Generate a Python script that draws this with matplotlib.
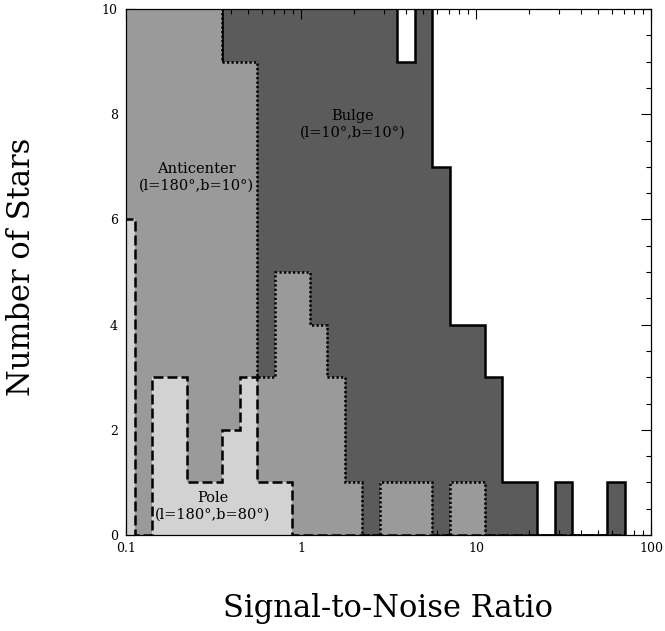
import numpy as np
import matplotlib
matplotlib.use("Agg")
import matplotlib.pyplot as plt
from matplotlib.ticker import MultipleLocator, FixedLocator, FixedFormatter, NullFormatter, LogLocator

# Bins: 0.1 dex wide in log10(S/N), first bin centred on log10 = -1.0
log_edges_start = -1.05
bin_width_dex = 0.1
n_bins = 29

# Counts per bin (bins centred at log10(S/N) = -1.0, -0.9, ..., 1.8)
pole_counts = [6, 0, 3, 3, 1, 1, 2, 3, 1, 1, 0, 0, 0, 0, 0, 0, 0, 0, 0, 0,
               0, 0, 0, 0, 0, 0, 0, 0, 0]
anticenter_counts = [11, 12, 14, 13, 12, 11, 9, 9, 3, 5, 5, 4, 3, 1, 0, 1, 1, 1, 0, 1,
                     1, 0, 0, 0, 0, 0, 0, 0, 0]
bulge_counts = [0, 1, 2, 4, 6, 8, 11, 13, 15, 16, 18, 17, 16, 14, 12, 11, 9, 11, 7, 4,
                4, 3, 1, 1, 0, 1, 0, 0, 1]

labels = {
    "Bulge": "Bulge\n(l=10°,b=10°)",
    "Anticenter": "Anticenter\n(l=180°,b=10°)",
    "Pole": "Pole\n(l=180°,b=80°)",
}
label_pos = {"Bulge": (1.97, 7.81), "Anticenter": (0.253, 6.80), "Pole": (0.313, 0.55)}

xticks = [0.1, 1, 10, 100]
xticklabels = ["0.1", "1", "10", "100"]
yticks = [0, 2, 4, 6, 8, 10]

edges = 10 ** (log_edges_start + bin_width_dex * np.arange(n_bins + 1))

fig = plt.figure(figsize=(6.65, 6.31), dpi=100)
ax = fig.add_axes([126 / 665, 1 - 535 / 631, (651 - 126) / 665, (535 - 9) / 631])

serif = "DejaVu Serif"
lw = 1.8

# Bulge
ax.stairs(bulge_counts, edges, fill=True, color="#5b5b5b", zorder=1)
ax.stairs(bulge_counts, edges, baseline=0, color="black", lw=lw, linestyle="-", zorder=2)
# Anticenter
ax.stairs(anticenter_counts, edges, fill=True, color="#9a9a9a", zorder=3)
ax.stairs(anticenter_counts, edges, baseline=0, color="black", lw=lw,
          linestyle=(0, (0.9, 0.9)), zorder=4)
# Pole
ax.stairs(pole_counts, edges, fill=True, color="#d2d2d2", zorder=5)
ax.stairs(pole_counts, edges, baseline=0, color="black", lw=lw,
          linestyle=(0, (4.0, 1.6)), zorder=6)

ax.set_xscale("log")
ax.set_xlim(0.1, 100)
ax.set_ylim(0, 10)

ax.xaxis.set_major_locator(FixedLocator(xticks))
ax.xaxis.set_major_formatter(FixedFormatter(xticklabels))
ax.xaxis.set_minor_locator(LogLocator(base=10, subs=np.arange(2, 10)))
ax.xaxis.set_minor_formatter(NullFormatter())
ax.yaxis.set_major_locator(FixedLocator(yticks))
ax.yaxis.set_minor_locator(MultipleLocator(0.5))

ax.tick_params(which="both", direction="in", top=True, right=True, width=0.8,
               labelsize=9, colors="black")
ax.tick_params(which="major", length=7)
ax.tick_params(which="minor", length=3.6)
ax.tick_params(axis="x", pad=5)
ax.tick_params(axis="y", pad=6)
for lab in ax.get_xticklabels() + ax.get_yticklabels():
    lab.set_fontfamily(serif)
for sp in ax.spines.values():
    sp.set_linewidth(0.9)
    sp.set_zorder(10)

for key, txt in labels.items():
    x, y = label_pos[key]
    ax.text(x, y, txt, ha="center", va="center", fontsize=10.5, family=serif,
            linespacing=1.25, zorder=8)

fig.text(22 / 665, 1 - 267 / 631, "Number of Stars", rotation=90, ha="center",
         va="center", fontsize=22, family=serif)
fig.text(388 / 665, 1 - 608 / 631, "Signal-to-Noise Ratio", ha="center",
         va="center", fontsize=22, family=serif)

fig.savefig("out.png", dpi=100)
